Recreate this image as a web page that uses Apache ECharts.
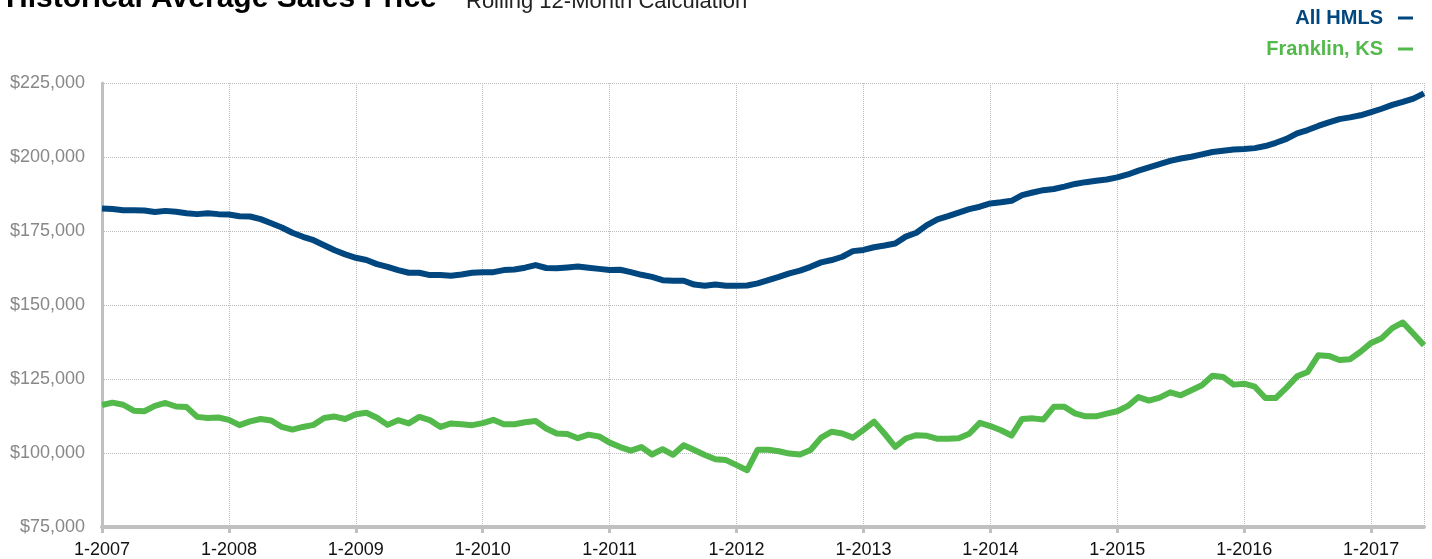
<!DOCTYPE html>
<html><head><meta charset="utf-8">
<script src="https://cdn.jsdelivr.net/npm/echarts@6/dist/echarts.min.js"></script>
<style>html,body{margin:0;padding:0;background:#fff}#c{width:1432px;height:559px}</style>
</head><body><div id="c"></div>
<script>
// Monthly categories 1-2007 .. 6-2017
const months = [];
for (let y = 2007; y <= 2017; y++) {
  for (let m = 1; m <= 12; m++) {
    if (y === 2017 && m > 6) break;
    months.push(m + '-' + y);
  }
}
const seriesNames = ['All HMLS', 'Franklin, KS'];
const allHMLS = [
  182600, 182400, 182000, 182000, 181900, 181400, 181800, 181500, 181000, 180700, 181000, 180700,
  180600, 180000, 179900, 179000, 177600, 176200, 174400, 173050, 171900, 170200, 168500, 167100,
  165950, 165200, 163800, 162900, 161800, 160900, 160900, 160100, 160100, 159900, 160300, 160900,
  161100, 161100, 161800, 162000, 162600, 163500, 162500, 162400, 162700, 163000, 162600, 162200,
  161800, 161900, 161100, 160200, 159500, 158400, 158200, 158200, 156900, 156500, 156900, 156500,
  156500, 156600, 157300, 158400, 159500, 160700, 161600, 162900, 164400, 165200, 166300, 168200,
  168600, 169500, 170100, 170800, 173100, 174400, 177000, 178900, 180000, 181200, 182400, 183200,
  184300, 184700, 185200, 187100, 188000, 188800, 189200, 190000, 190900, 191500, 192000, 192400,
  193100, 194100, 195400, 196500, 197600, 198700, 199500, 200100, 200900, 201700, 202100, 202500,
  202700, 203000, 203700, 204800, 206100, 208000, 209100, 210500, 211700, 212800, 213400, 214100,
  215200, 216300, 217600, 218600, 219700, 221500
];
const franklinKS = [
  116200, 117000, 116300, 114300, 114100, 115900, 116900, 115700, 115500, 112200, 111800, 112000,
  111200, 109400, 110700, 111500, 111000, 108800, 107900, 108800, 109500, 111800, 112300, 111500,
  113100, 113600, 111900, 109500, 111100, 110000, 112200, 111100, 108800, 110000, 109700, 109400,
  110100, 111200, 109700, 109700, 110400, 110800, 108300, 106600, 106400, 105000, 106200, 105600,
  103500, 102000, 100800, 102000, 99500, 101300, 99400, 102600, 101000, 99300, 97900, 97600,
  95900, 94200, 101100, 101100, 100600, 99800, 99500, 101000, 105200, 107200, 106600, 105200,
  107800, 110600, 106500, 102100, 104900, 106000, 105800, 104800, 104800, 105000, 106500, 110200,
  109100, 107700, 105900, 111500, 111700, 111300, 115600, 115600, 113400, 112400, 112400, 113300,
  114100, 115900, 118900, 117700, 118700, 120500, 119500, 121200, 122900, 126100, 125700, 123100,
  123400, 122400, 118600, 118600, 122100, 125900, 127400, 133000, 132800, 131400, 131700, 134200,
  137200, 138800, 142200, 144100, 140300, 136400
];
const yMin = 75000, yMax = 225000, yStep = 25000;
const colors = ['#00467f', '#52b94a'];

const FONT = '"Liberation Sans", Arial, Helvetica, sans-serif';
const isYear = (i) => i % 12 === 0;

const chart = echarts.init(document.getElementById('c'), null, {renderer: 'canvas'});
chart.setOption({
  animation: false,
  backgroundColor: '#fff',
  textStyle: {fontFamily: FONT},
  title: [
    {text: 'Historical Average Sales Price', left: 6, top: -16, padding: 0,
     textStyle: {fontSize: 30, fontWeight: 'bold', color: '#000', fontFamily: FONT}},
    {text: 'Rolling 12-Month Calculation', left: 466, top: -9, padding: 0,
     textStyle: {fontSize: 22, fontWeight: 'normal', color: '#222', fontFamily: FONT}}
  ],
  legend: {
    data: [
      {name: seriesNames[0], textStyle: {color: colors[0]}},
      {name: seriesNames[1], textStyle: {color: colors[1]}}
    ],
    orient: 'vertical', right: 14, top: 3, align: 'right',
    icon: 'rect', itemWidth: 15, itemHeight: 3, itemGap: 11,
    textStyle: {fontSize: 20, fontWeight: 'bold', fontFamily: FONT, padding: [0, 10, 0, 0]}
  },
  grid: {left: 102, right: 8, top: 83, bottom: 31, containLabel: false},
  xAxis: {
    type: 'category', data: months, boundaryGap: false,
    axisLine: {lineStyle: {color: '#c0c0c0', width: 4}},
    axisTick: {show: true, interval: (i) => isYear(i), length: 6, alignWithLabel: true,
               lineStyle: {color: '#c0c0c0', width: 3}},
    axisLabel: {interval: (i) => isYear(i), color: '#111', fontSize: 18, margin: 14, fontFamily: FONT},
    splitLine: {show: true, interval: (i) => isYear(i) || i === months.length - 1,
                lineStyle: {type: 'dotted', color: '#bdbdbd', width: 1}}
  },
  yAxis: {
    type: 'value', min: yMin, max: yMax, interval: yStep,
    axisLine: {show: true, lineStyle: {color: '#c0c0c0', width: 3}},
    axisTick: {show: false},
    axisLabel: {color: '#888', fontSize: 18, margin: 17, fontFamily: FONT,
                formatter: (v) => '$' + v.toLocaleString('en-US')},
    splitLine: {show: true, lineStyle: {type: 'dotted', color: '#bdbdbd', width: 1}}
  },
  series: [
    {name: seriesNames[0], type: 'line', data: allHMLS, showSymbol: false, symbol: 'none',
     lineStyle: {color: colors[0], width: 6, join: 'round'}, itemStyle: {color: colors[0]}},
    {name: seriesNames[1], type: 'line', data: franklinKS, showSymbol: false, symbol: 'none',
     lineStyle: {color: colors[1], width: 6, join: 'round'}, itemStyle: {color: colors[1]}}
  ]
});
</script>
</body></html>
